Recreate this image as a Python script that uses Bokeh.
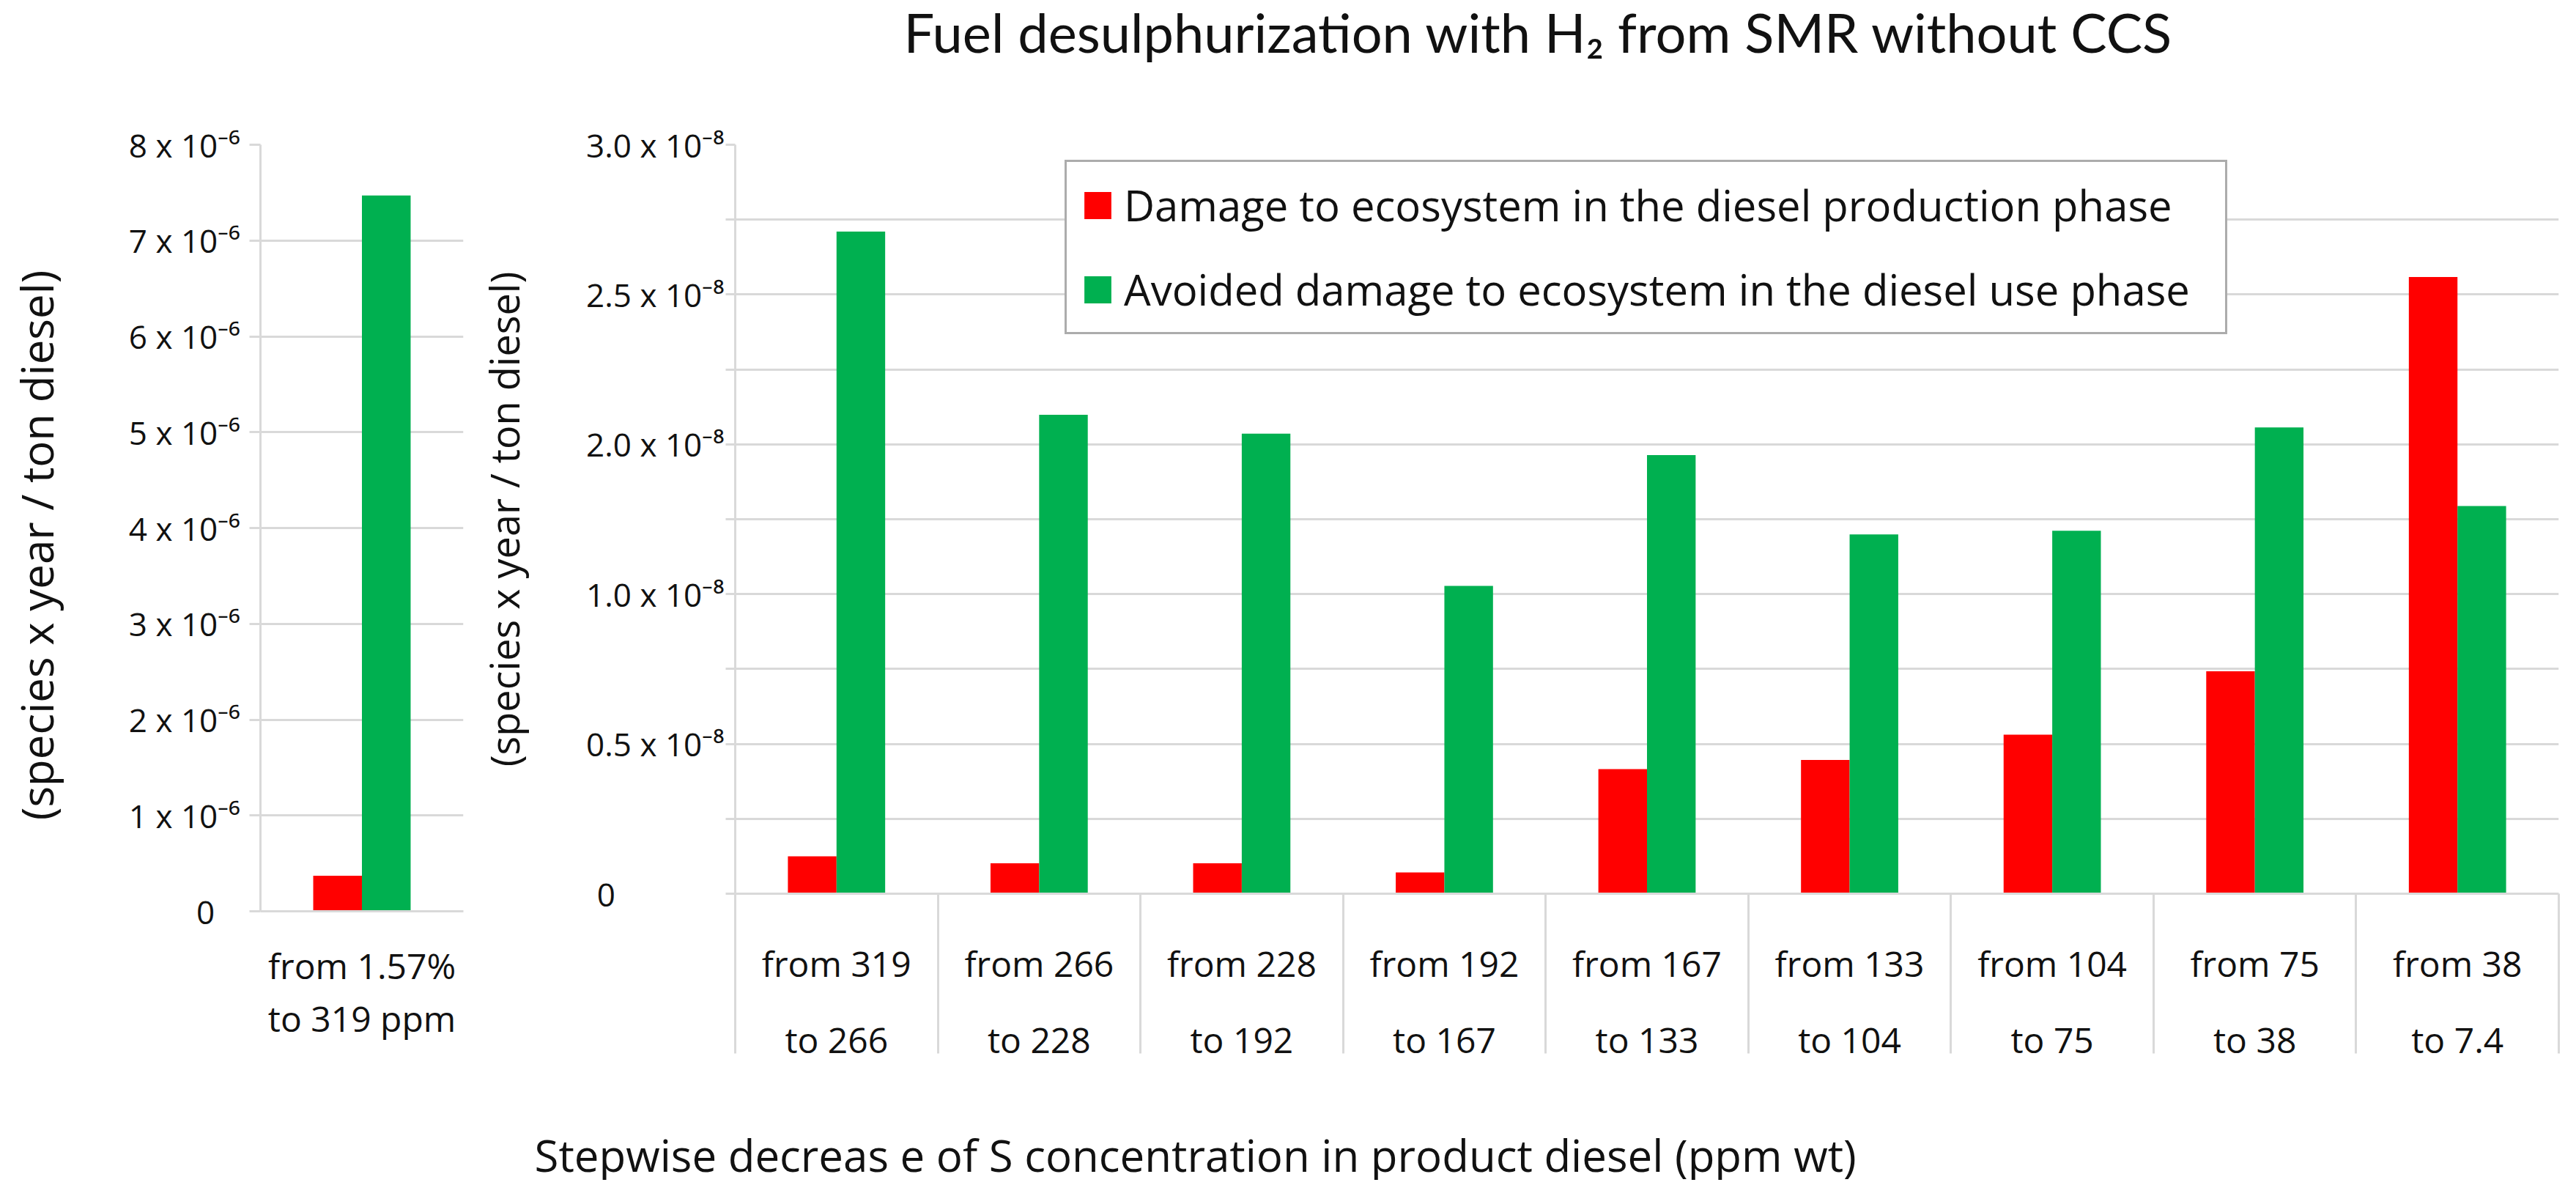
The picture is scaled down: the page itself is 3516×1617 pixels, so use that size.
import numpy as np
from bokeh.plotting import figure
from bokeh.models import Range1d, FixedTicker, ColumnDataSource, Legend, LegendItem
from bokeh.layouts import row, column
from bokeh.transform import dodge
from bokeh.core.properties import value
from bokeh.embed import file_html
from bokeh.resources import INLINE

# ---------------- data ----------------
left_categories = ["from 1.57%\nto 319 ppm"]
left_production = [0.37]      # x 10^-6 species x year / ton diesel
left_avoided = [7.47]

right_categories = ["from 319\nto 266", "from 266\nto 228", "from 228\nto 192",
                    "from 192\nto 167", "from 167\nto 133", "from 133\nto 104",
                    "from 104\nto 75", "from 75\nto 38", "from 38\nto 7.4"]
right_production = [0.150, 0.122, 0.122, 0.085, 0.499, 0.536, 0.637, 0.891, 2.470]
right_avoided = [2.652, 1.918, 1.843, 1.233, 1.757, 1.439, 1.454, 1.868, 1.553]

left_tick_values = [0, 1, 2, 3, 4, 5, 6, 7, 8]
left_tick_labels = ["0\u00a0\u00a0\u00a0", "1 x 10\u207b\u2076", "2 x 10\u207b\u2076", "3 x 10\u207b\u2076",
                    "4 x 10\u207b\u2076", "5 x 10\u207b\u2076", "6 x 10\u207b\u2076", "7 x 10\u207b\u2076",
                    "8 x 10\u207b\u2076"]
right_tick_values = [0, 0.3, 0.6, 0.9, 1.2, 1.5, 1.8, 2.1, 2.4, 2.7, 3.0]
right_tick_labels = ["0" + "\u00a0" * 13, "", "0.5 x 10\u207b\u2078", "", "1.0 x 10\u207b\u2078", "",
                     "2.0 x 10\u207b\u2078", "", "2.5 x 10\u207b\u2078", "", "3.0 x 10\u207b\u2078"]

title_text = "Fuel desulphurization with H\u2082 from SMR without CCS"
xtitle_text = "Stepwise decreas e of S concentration in product diesel (ppm wt)"
ylabel_text = "(species x year / ton diesel)"
legend_labels = ["Damage to ecosystem in the diesel production phase",
                 "Avoided damage to ecosystem in the diesel use phase"]

RED = "#ff0000"
GREEN = "#00b050"
GRID = "#d9d9d9"
TXT = "#111111"
FONT = "Open Sans"
PAGE_W = 3508


def style(p, ylab_text, ylab_standoff, ytick_out, ylab_label_standoff, ylab_size):
    p.outline_line_color = None
    p.background_fill_color = "white"
    p.border_fill_color = "white"
    p.xgrid.visible = False
    p.ygrid.grid_line_color = GRID
    p.ygrid.grid_line_width = 3
    for ax in (p.xaxis[0], p.yaxis[0]):
        ax.axis_line_color = GRID
        ax.axis_line_width = 3
        ax.major_label_text_font = FONT
        ax.major_label_text_color = TXT
        ax.major_tick_line_color = GRID
        ax.major_tick_line_width = 3
        ax.minor_tick_line_color = GRID
        ax.minor_tick_line_width = 3
        ax.major_tick_in = 0
        ax.minor_tick_in = 0
        ax.minor_tick_out = 0
    y = p.yaxis[0]
    y.major_tick_out = ytick_out
    y.major_label_standoff = ylab_label_standoff
    y.major_label_text_font_size = "44px"
    y.axis_label = ylab_text
    y.axis_label_text_font = FONT
    y.axis_label_text_font_style = "normal"
    y.axis_label_text_font_size = ylab_size
    y.axis_label_text_color = TXT
    y.axis_label_standoff = ylab_standoff


def text_strip(height, x, y_base, text, font, size):
    f = figure(x_range=Range1d(0, PAGE_W), y_range=Range1d(0, height),
               frame_width=PAGE_W, frame_height=height,
               min_border=0, x_axis_location=None, y_axis_location=None,
               output_backend="svg", toolbar_location=None)
    f.grid.visible = False
    f.outline_line_color = None
    f.text(x=[x], y=[height - y_base], text=[text], text_font=value(font),
           text_font_size=size, text_color=TXT, text_baseline="alphabetic", text_align="left")
    return f


# ---------------- title strip (page y 0..120) ----------------
title_fig = text_strip(120, 1233, 43, title_text, "Lato", "74px")

# ---------------- left chart (page x 0..640) ----------------
lx = [i + 0.5 for i in range(len(left_categories))]
lsrc = ColumnDataSource(dict(x=lx, prod=left_production, avoid=left_avoided))
pl = figure(x_range=Range1d(0, len(left_categories)), y_range=Range1d(0, 8),
            frame_width=277, frame_height=1046,
            min_border_left=355, min_border_right=8, min_border_top=77, min_border_bottom=257,
            output_backend="svg", toolbar_location=None)
pl.vbar(x=dodge("x", -0.12, range=pl.x_range), top="prod", width=0.24, source=lsrc,
        fill_color=RED, line_color=None)
pl.vbar(x=dodge("x", 0.12, range=pl.x_range), top="avoid", width=0.24, source=lsrc,
        fill_color=GREEN, line_color=None)
style(pl, ylabel_text + "\u00a0\u00a0\u00a0", ylab_standoff=82, ytick_out=15,
      ylab_label_standoff=13, ylab_size="60px")
pl.yaxis[0].ticker = FixedTicker(ticks=left_tick_values)
pl.yaxis[0].major_label_overrides = dict(zip(left_tick_values, left_tick_labels))
pl.xaxis[0].ticker = FixedTicker(ticks=lx)
pl.xaxis[0].major_label_overrides = dict(zip(lx, left_categories))
pl.xaxis[0].major_tick_out = 0
pl.xaxis[0].major_label_standoff = 41
pl.xaxis[0].major_label_text_font_size = "48px"
pl.xaxis[0].major_label_text_line_height = 1.12

# ---------------- right chart (page x 640..3508) ----------------
rx = [i + 0.5 for i in range(len(right_categories))]
bounds = list(range(len(right_categories) + 1))
rsrc = ColumnDataSource(dict(x=rx, prod=right_production, avoid=right_avoided))
pr = figure(x_range=Range1d(0, len(right_categories)), y_range=Range1d(0, 3.0),
            frame_width=2489, frame_height=1022,
            min_border_left=363, min_border_right=16, min_border_top=75, min_border_bottom=283,
            output_backend="svg", toolbar_location=None)
r_red = pr.vbar(x=dodge("x", -0.12, range=pr.x_range), top="prod", width=0.24, source=rsrc,
                fill_color=RED, line_color=None)
r_green = pr.vbar(x=dodge("x", 0.12, range=pr.x_range), top="avoid", width=0.24, source=rsrc,
                  fill_color=GREEN, line_color=None)
style(pr, ylabel_text, ylab_standoff=72, ytick_out=13, ylab_label_standoff=2, ylab_size="54px")
pr.yaxis[0].ticker = FixedTicker(ticks=right_tick_values)
pr.yaxis[0].major_label_overrides = dict(zip(right_tick_values, right_tick_labels))
pr.xaxis[0].ticker = FixedTicker(ticks=rx, minor_ticks=bounds)
pr.xaxis[0].major_label_overrides = dict(zip(rx, right_categories))
pr.xaxis[0].major_tick_out = 0
pr.xaxis[0].minor_tick_out = 218
pr.xaxis[0].major_label_standoff = -156
pr.xaxis[0].major_label_text_font_size = "48px"
pr.xaxis[0].major_label_text_line_height = 1.6

legend = Legend(items=[LegendItem(label=legend_labels[0], renderers=[r_red]),
                       LegendItem(label=legend_labels[1], renderers=[r_green])],
                location=(450, 763), orientation="vertical",
                padding=19, spacing=36, margin=0,
                glyph_width=46, glyph_height=46, label_standoff=13, label_width=1484,
                label_text_font=FONT, label_text_font_size="58px", label_text_color=TXT,
                border_line_color="#595959", border_line_width=3,
                background_fill_color="white", background_fill_alpha=1.0)
pr.add_layout(legend)

# ---------------- x title strip (page y 1500..1610) ----------------
xtitle_fig = text_strip(110, 729, 75, xtitle_text, FONT, "60px")

layout = column(title_fig, row(pl, pr, spacing=0), xtitle_fig, spacing=0)
open("out.html", "w").write(file_html(layout, INLINE))
